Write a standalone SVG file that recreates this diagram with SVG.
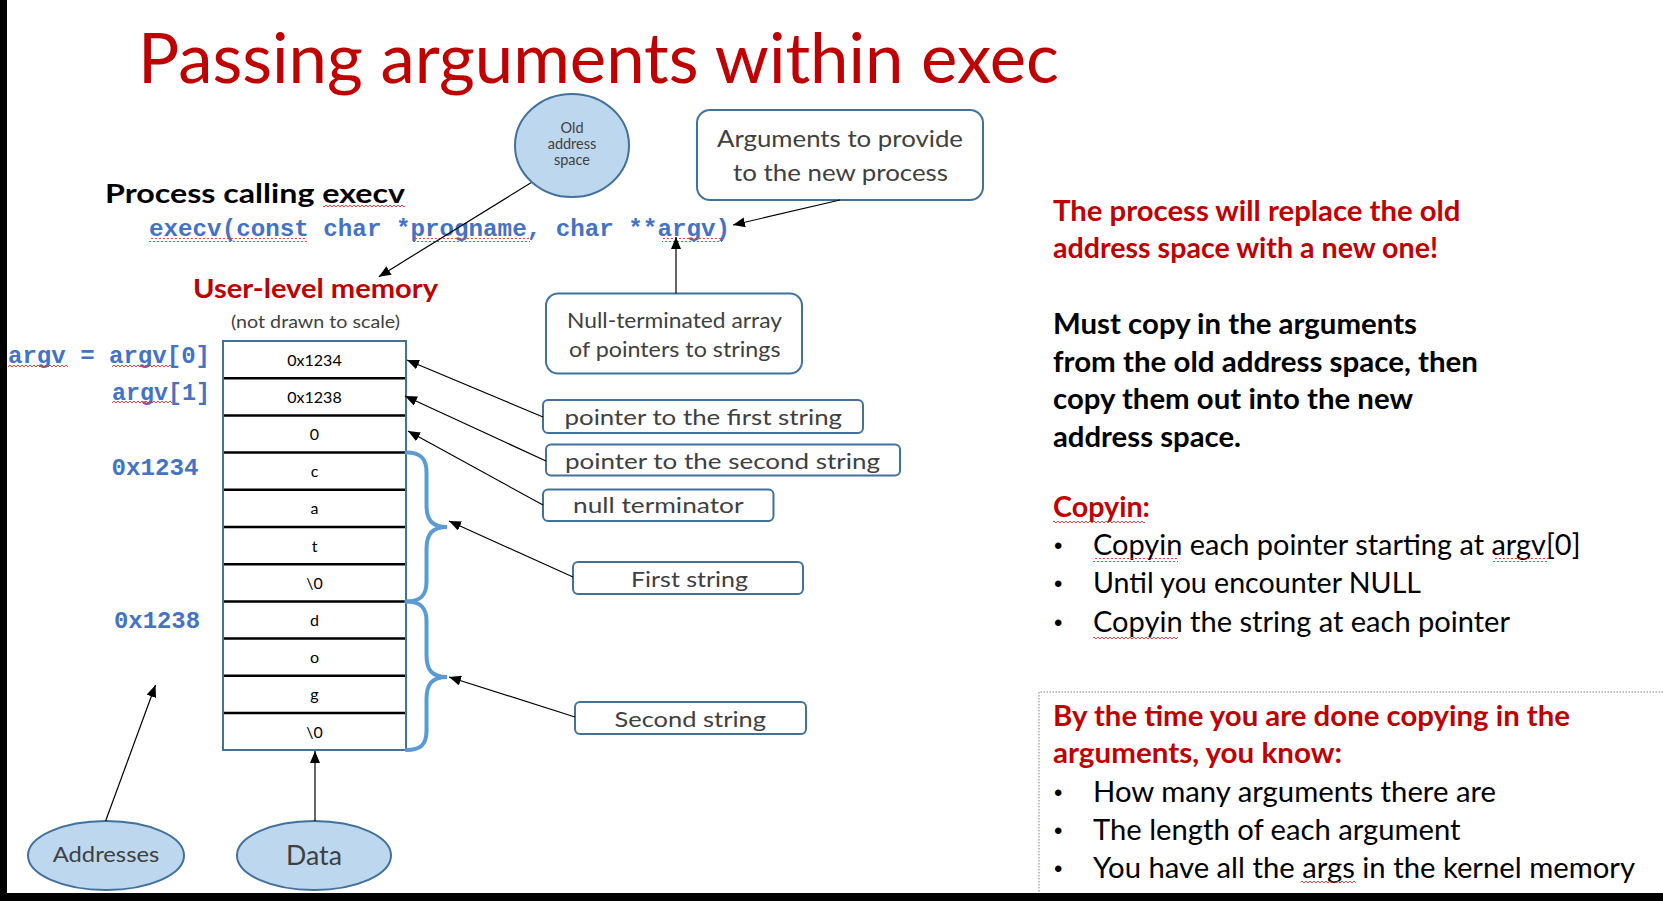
<svg xmlns="http://www.w3.org/2000/svg" width="1663" height="901" viewBox="0 0 1663 901">
<style>
.s{font-family:"Lato","Open Sans","Liberation Sans",sans-serif}
.m{font-family:"Liberation Mono","DejaVu Sans Mono",monospace;font-weight:bold;fill:#4472c4;font-size:24px}
.red{fill:#c00000}
.gray{fill:#404040}
.b{font-weight:bold}
.box{fill:#fff;stroke:#41719c;stroke-width:2}
.ell{fill:#bdd7ee;stroke:#41719c;stroke-width:2}
.c{font-size:16px;fill:#000;text-anchor:middle}
.con line{stroke:#000;stroke-width:1.2;marker-end:url(#ah)}
.rt{font-size:28px}
.bu{font-family:"Liberation Sans",sans-serif;font-size:24px}
</style>
<defs>
<marker id="ah" viewBox="0 0 12 10" refX="12" refY="5" markerWidth="12" markerHeight="10" orient="auto" markerUnits="userSpaceOnUse"><path d="M0,0 L12,5 L0,10 z" fill="#000"/></marker>
<pattern id="sq" width="4" height="4" patternUnits="userSpaceOnUse"><path d="M0,3 L2,1 L4,3" stroke="#e03030" fill="none" stroke-width="0.9"/></pattern>
</defs>
<rect width="1663" height="901" fill="#fff"/>
<rect x="0" y="0" width="7" height="901" fill="#000"/>
<rect x="0" y="893" width="1663" height="8" fill="#000"/>

<text class="s red" x="138" y="83" font-size="69" textLength="921" lengthAdjust="spacingAndGlyphs">Passing arguments within exec</text>

<g id="old-address-space">
<ellipse class="ell" cx="572" cy="145.5" rx="57" ry="51.5"/>
<text class="s gray" font-size="14.5" text-anchor="middle"><tspan x="572" y="133">Old</tspan><tspan x="572" y="149">address</tspan><tspan x="572" y="165">space</tspan></text>
</g>

<g id="args-to-provide">
<rect class="box" x="697" y="110" width="286" height="90" rx="13"/>
<text class="s gray" x="717" y="147" font-size="24" textLength="246" lengthAdjust="spacingAndGlyphs">Arguments to provide</text>
<text class="s gray" x="733" y="181" font-size="24" textLength="215" lengthAdjust="spacingAndGlyphs">to the new process</text>
</g>

<g id="process-calling">
<text class="s b" x="105" y="203" font-size="26.5" textLength="300" lengthAdjust="spacingAndGlyphs">Process calling execv</text>
<rect x="323" y="205" width="82" height="4" fill="url(#sq)"/>
</g>

<g id="execv-call">
<text class="m" x="149" y="236" textLength="581" lengthAdjust="spacingAndGlyphs">execv(const char *progname, char **argv)</text>
<rect x="149" y="238" width="158" height="4" fill="url(#sq)"/>
<rect x="413" y="238" width="117" height="4" fill="url(#sq)"/>
<rect x="662" y="238" width="60" height="4" fill="url(#sq)"/>
</g>

<g id="user-level-memory">
<text class="s b red" x="193" y="298" font-size="26" textLength="245" lengthAdjust="spacingAndGlyphs">User-level memory</text>
<text class="s gray" x="231" y="328" font-size="16.5" textLength="169" lengthAdjust="spacingAndGlyphs">(not drawn to scale)</text>
</g>

<g id="null-terminated-array">
<rect class="box" x="546" y="293.5" width="256" height="80" rx="12"/>
<text class="s gray" x="567" y="327.5" font-size="21" textLength="215" lengthAdjust="spacingAndGlyphs">Null-terminated array</text>
<text class="s gray" x="569" y="356.5" font-size="21" textLength="211.5" lengthAdjust="spacingAndGlyphs">of pointers to  strings</text>
</g>

<g id="address-labels">
<text class="m" x="8" y="363" textLength="202" lengthAdjust="spacingAndGlyphs">argv = argv[0]</text>
<rect x="8" y="363.5" width="60" height="4" fill="url(#sq)"/>
<rect x="112" y="363.5" width="60" height="4" fill="url(#sq)"/>
<text class="m" x="112" y="400" textLength="98" lengthAdjust="spacingAndGlyphs">argv[1]</text>
<rect x="112" y="400.5" width="60" height="4" fill="url(#sq)"/>
<text class="m" x="111.5" y="475" textLength="87" lengthAdjust="spacingAndGlyphs">0x1234</text>
<text class="m" x="114" y="628" textLength="86" lengthAdjust="spacingAndGlyphs">0x1238</text>
</g>

<g id="memory-column">
<rect x="223" y="341" width="183" height="409" fill="#fff" stroke="#41719c" stroke-width="2"/>
<g stroke="#000" stroke-width="2.5">
<line x1="224" y1="378.2" x2="405" y2="378.2"/>
<line x1="224" y1="415.4" x2="405" y2="415.4"/>
<line x1="224" y1="452.6" x2="405" y2="452.6"/>
<line x1="224" y1="489.8" x2="405" y2="489.8"/>
<line x1="224" y1="527" x2="405" y2="527"/>
<line x1="224" y1="564.2" x2="405" y2="564.2"/>
<line x1="224" y1="601.4" x2="405" y2="601.4"/>
<line x1="224" y1="638.6" x2="405" y2="638.6"/>
<line x1="224" y1="675.8" x2="405" y2="675.8"/>
<line x1="224" y1="713" x2="405" y2="713"/>
</g>
<g class="s c">
<text x="314.5" y="365.5">0x1234</text>
<text x="314.5" y="402.7">0x1238</text>
<text x="314.5" y="440">0</text>
<text x="314.5" y="477">c</text>
<text x="314.5" y="514.3">a</text>
<text x="314.5" y="551.5">t</text>
<text x="314.5" y="588.7">\0</text>
<text x="314.5" y="626">d</text>
<text x="314.5" y="663.2">o</text>
<text x="314.5" y="700.4">g</text>
<text x="314.5" y="737.5">\0</text>
</g>
</g>

<g id="braces" fill="none" stroke="#5b9bd5" stroke-width="4" stroke-linecap="round">
<path d="M406.5,452.5 C420,452.5 426.5,458 426.5,472 L426.5,505 C426.5,520 432,527 447,527 C432,527 426.5,534 426.5,549 L426.5,582 C426.5,596 420,601.5 406.5,601.5"/>
<path d="M406.5,601.5 C420,601.5 426.5,607 426.5,621 L426.5,655 C426.5,670 432,677 447,677 C432,677 426.5,684 426.5,699 L426.5,731 C426.5,745 420,750 406.5,750"/>
</g>

<g id="pointer-first">
<rect class="box" x="543" y="400" width="320" height="33" rx="5"/>
<text class="s gray" x="564.5" y="425" font-size="22" textLength="277.5" lengthAdjust="spacingAndGlyphs">pointer to the first string</text>
</g>
<g id="pointer-second">
<rect class="box" x="546" y="444.5" width="354" height="31" rx="5"/>
<text class="s gray" x="565" y="468.5" font-size="22" textLength="315" lengthAdjust="spacingAndGlyphs">pointer to the second string</text>
</g>
<g id="null-terminator">
<rect class="box" x="543" y="489.5" width="230.5" height="31.5" rx="5"/>
<text class="s gray" x="573" y="513" font-size="22" textLength="170.5" lengthAdjust="spacingAndGlyphs">null terminator</text>
</g>
<g id="first-string">
<rect class="box" x="573" y="562" width="230" height="32" rx="5"/>
<text class="s gray" x="631" y="586.5" font-size="22" textLength="117" lengthAdjust="spacingAndGlyphs">First string</text>
</g>
<g id="second-string">
<rect class="box" x="575" y="702" width="231" height="32" rx="5"/>
<text class="s gray" x="614.5" y="726.5" font-size="22" textLength="151.5" lengthAdjust="spacingAndGlyphs">Second string</text>
</g>

<g id="addresses">
<ellipse class="ell" cx="106" cy="855.5" rx="78" ry="34.5"/>
<text class="s gray" x="106" y="862" font-size="21" text-anchor="middle" textLength="106.6" lengthAdjust="spacingAndGlyphs">Addresses</text>
</g>
<g id="data">
<ellipse class="ell" cx="314" cy="855.5" rx="77" ry="34.5"/>
<text class="s gray" x="314" y="865" font-size="27" text-anchor="middle" textLength="56" lengthAdjust="spacingAndGlyphs">Data</text>
</g>

<g id="connectors" class="con">
<line x1="531" y1="182.7" x2="378.8" y2="276.7"/>
<line x1="840" y1="200" x2="733" y2="225"/>
<line x1="676" y1="293.5" x2="676" y2="237"/>
<line x1="543" y1="417" x2="407" y2="360"/>
<line x1="546" y1="461" x2="405" y2="396"/>
<line x1="543" y1="505" x2="408" y2="431"/>
<line x1="573" y1="577" x2="449" y2="521"/>
<line x1="575" y1="717" x2="449" y2="677"/>
<line x1="105.6" y1="821" x2="155.5" y2="685"/>
<line x1="315" y1="821" x2="315" y2="751"/>
</g>

<g id="right-text" class="s rt">
<text class="b red" x="1053" y="220.5" textLength="407.5" lengthAdjust="spacingAndGlyphs">The process will replace the old</text>
<text class="b red" x="1053" y="258" textLength="385" lengthAdjust="spacingAndGlyphs">address space with a new one!</text>
<text class="b" x="1053" y="334" textLength="364" lengthAdjust="spacingAndGlyphs">Must copy in the arguments</text>
<text class="b" x="1053" y="372" textLength="425" lengthAdjust="spacingAndGlyphs">from the old address space, then</text>
<text class="b" x="1053" y="409" textLength="360" lengthAdjust="spacingAndGlyphs">copy them out into the new</text>
<text class="b" x="1053" y="447" textLength="188" lengthAdjust="spacingAndGlyphs">address space.</text>
<text class="b red" x="1053" y="517" textLength="97" lengthAdjust="spacingAndGlyphs">Copyin:</text>
<rect x="1053" y="519.5" width="92" height="4" fill="url(#sq)"/>
<text class="bu" x="1054" y="554">•</text>
<text x="1093" y="555" textLength="487.5" lengthAdjust="spacingAndGlyphs">Copyin each pointer starting at argv[0]</text>
<rect x="1093" y="558" width="85" height="4" fill="url(#sq)"/>
<rect x="1493" y="558" width="56" height="4" fill="url(#sq)"/>
<text class="bu" x="1054" y="592">•</text>
<text x="1093" y="593" textLength="328" lengthAdjust="spacingAndGlyphs">Until you encounter NULL</text>
<text class="bu" x="1054" y="631">•</text>
<text x="1093" y="632" textLength="417" lengthAdjust="spacingAndGlyphs">Copyin the string at each pointer</text>
<rect x="1093" y="635" width="85" height="4" fill="url(#sq)"/>
</g>

<g id="summary-box" class="s rt">
<path d="M1663,692 H1039 V893" fill="none" stroke="#7f7f7f" stroke-width="1" stroke-dasharray="1.5,1.5"/>
<text class="b red" x="1053" y="725.5" textLength="517" lengthAdjust="spacingAndGlyphs">By the time you are done copying in the</text>
<text class="b red" x="1053" y="763" textLength="289" lengthAdjust="spacingAndGlyphs">arguments, you know:</text>
<text class="bu" x="1054" y="800.5">•</text>
<text x="1093" y="801.5" textLength="403" lengthAdjust="spacingAndGlyphs">How many arguments there are</text>
<text class="bu" x="1054" y="839">•</text>
<text x="1093" y="840" textLength="367.5" lengthAdjust="spacingAndGlyphs">The length of each argument</text>
<text class="bu" x="1054" y="877">•</text>
<text x="1093" y="878" textLength="542" lengthAdjust="spacingAndGlyphs">You have all the args in the kernel memory</text>
<rect x="1300.5" y="880" width="55.5" height="4" fill="url(#sq)"/>
</g>
</svg>
